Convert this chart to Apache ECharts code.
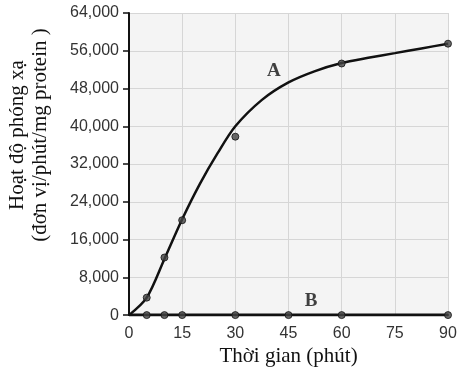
<!DOCTYPE html>
<html>
<head>
<meta charset="utf-8">
<script src="https://cdn.jsdelivr.net/npm/echarts@6/dist/echarts.min.js"></script>
<style>html,body{margin:0;padding:0;background:#fff}#c{width:468px;height:372px}</style>
</head>
<body>
<div id="c"></div>
<script>
// Data
const xTicks = [0, 15, 30, 45, 60, 75, 90];
const yTicks = [0, 8000, 16000, 24000, 32000, 40000, 48000, 56000, 64000];
// Curve A (fitted curve as drawn)
const curveA_x = [0, 5, 10, 15, 20, 25, 30, 37.5, 45, 52.5, 60, 67.5, 75, 82.5, 90];
const curveA_y = [0, 3700, 11900, 20300, 27800, 34300, 40000, 45600, 49300, 51700, 53400, 54500, 55500, 56500, 57500];
// Measured points A
const pointsA_x = [5, 10, 15, 30, 60, 90];
const pointsA_y = [3700, 12200, 20100, 37800, 53300, 57500];
// Line B and its points
const lineB_x = [0, 90];
const lineB_y = [0, 0];
const pointsB_x = [5, 10, 15, 30, 45, 60, 90];
const pointsB_y = [0, 0, 0, 0, 0, 0, 0];
// Curve labels
const curveLabels = ['A', 'B'];
const curveLabel_x = [40.9, 51.4];
const curveLabel_y = [51600, 2900];

const zip = (xs, ys) => xs.map((x, i) => [x, ys[i]]);

const chart = echarts.init(document.getElementById('c'), null, {renderer: 'canvas'});
const tickFont = '"Liberation Sans", Arial, sans-serif';
const serif = '"Liberation Serif", "Times New Roman", serif';

chart.setOption({
  animation: false,
  backgroundColor: '#ffffff',
  grid: {
    left: 129, right: 20, top: 13, bottom: 56,
    show: true, backgroundColor: '#f4f4f4', borderWidth: 0
  },
  xAxis: {
    type: 'value', min: xTicks[0], max: xTicks[xTicks.length - 1], interval: 15,
    name: 'Thời gian (phút)', nameLocation: 'middle', nameGap: 28,
    nameTextStyle: {fontFamily: serif, fontSize: 21, color: '#111'},
    axisLine: {show: true, lineStyle: {color: '#111', width: 2}},
    axisTick: {show: false},
    axisLabel: {fontFamily: tickFont, fontSize: 16, color: '#333', margin: 10},
    splitLine: {show: true, lineStyle: {color: '#d6d6d6', width: 1}}
  },
  yAxis: {
    type: 'value', min: yTicks[0], max: yTicks[yTicks.length - 1], interval: 8000,
    axisLine: {show: true, lineStyle: {color: '#111', width: 2}},
    axisTick: {show: true, inside: false, length: 6, lineStyle: {color: '#111', width: 1.5}},
    axisLabel: {
      fontFamily: tickFont, fontSize: 16, color: '#333', margin: 10,
      formatter: v => v.toLocaleString('en-US')
    },
    splitLine: {show: true, lineStyle: {color: '#d6d6d6', width: 1}}
  },
  graphic: [{
    type: 'text', x: 29, y: 135, rotation: Math.PI / 2,
    style: {
      text: 'Hoạt độ phóng xạ\n(đơn vị/phút/mg protein )',
      font: '21px ' + serif, fill: '#111',
      align: 'center', verticalAlign: 'middle', lineHeight: 23
    }
  }],
  series: [
    {
      type: 'line', data: zip(curveA_x, curveA_y), smooth: 0.3,
      showSymbol: false, symbol: 'none',
      lineStyle: {color: '#111', width: 2.5}, z: 3
    },
    {
      type: 'line', data: zip(lineB_x, lineB_y), showSymbol: false, symbol: 'none',
      lineStyle: {color: '#111', width: 3}, z: 3
    },
    {
      type: 'scatter', data: zip(pointsA_x, pointsA_y), symbol: 'circle', symbolSize: 7,
      itemStyle: {color: '#444', borderColor: '#111', borderWidth: 1}, z: 5
    },
    {
      type: 'scatter', data: zip(pointsB_x, pointsB_y), symbol: 'circle', symbolSize: 7,
      itemStyle: {color: '#444', borderColor: '#111', borderWidth: 1}, z: 5
    },
    {
      type: 'scatter', symbolSize: 0, z: 6,
      data: curveLabels.map((n, i) => ({name: n, value: [curveLabel_x[i], curveLabel_y[i]]})),
      label: {
        show: true, position: 'inside', formatter: '{b}',
        fontFamily: serif, fontWeight: 'bold', fontSize: 19, color: '#111'
      }
    }
  ]
});
</script>
</body>
</html>
